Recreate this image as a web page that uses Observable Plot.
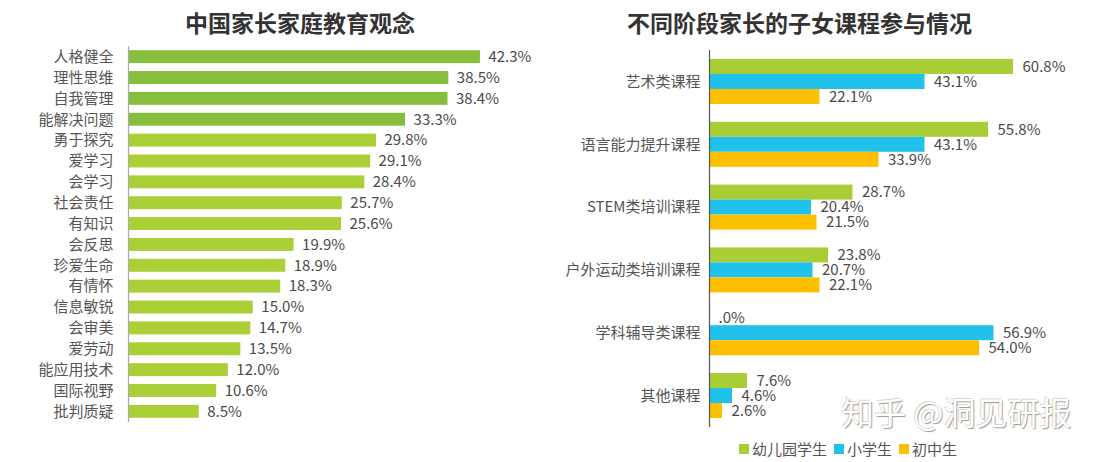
<!DOCTYPE html>
<html>
<head>
<meta charset="utf-8">
<script src="https://cdn.jsdelivr.net/npm/d3@7"></script>
<script src="https://cdn.jsdelivr.net/npm/@observablehq/plot@0.6"></script>
<style>
  html, body { margin: 0; padding: 0; background: #fff; }
  body { width: 1108px; height: 462px; position: relative; overflow: hidden;
         font-family: "Noto Sans CJK SC", "Noto Sans", sans-serif; }
  .title { position: absolute; top: 5px; font-size: 23px; font-weight: bold; color: #333; line-height: 34px; white-space: nowrap; }
  #t1 { left: 0; width: 600px; text-align: center; }
  #t2 { left: 627px; }
  #left { position: absolute; left: 0; top: 0; }
  #right { position: absolute; left: 560px; top: 0; }
  #legend { position: absolute; left: 739px; top: 432px; }
  #legend .lg-swatch { margin-right: 7px; color: #555; }
  #legend .lg-swatch > svg { margin-right: 3px; }
  #wm { position: absolute; left: 842px; top: 388px; font-size: 32px; color: #fff; white-space: nowrap;
        text-shadow: 1px 1px 1px #9a9a9a, -1px -1px 0 #d8d8d8; }
</style>
</head>
<body>
<div class="title" id="t1">中国家长家庭教育观念</div>
<div class="title" id="t2">不同阶段家长的子女课程参与情况</div>
<div id="left"></div>
<div id="right"></div>
<div id="legend"></div>
<div id="wm">知乎 @洞见研报</div>
<script>
// ---- Left chart data ----
const concepts = ["人格健全","理性思维","自我管理","能解决问题","勇于探究","爱学习","会学习","社会责任","有知识","会反思","珍爱生命","有情怀","信息敏锐","会审美","爱劳动","能应用技术","国际视野","批判质疑"];
const conceptValues = [42.3,38.5,38.4,33.3,29.8,29.1,28.4,25.7,25.6,19.9,18.9,18.3,15.0,14.7,13.5,12.0,10.6,8.5];
const conceptTier = ["top","top","top","top","rest","rest","rest","rest","rest","rest","rest","rest","rest","rest","rest","rest","rest","rest"];

// ---- Right chart data ----
const courses = ["艺术类课程","语言能力提升课程","STEM类培训课程","户外运动类培训课程","学科辅导类课程","其他课程"];
const seriesNames = ["幼儿园学生","小学生","初中生"];
const kindergarten = [60.8,55.8,28.7,23.8,0,7.6];
const primary = [43.1,43.1,20.4,20.7,56.9,4.6];
const juniorHigh = [22.1,33.9,21.5,22.1,54.0,2.6];
const seriesColors = ["#a8cd35","#20c2ec","#fdc000"];

const font = "'Noto Sans CJK SC', 'Noto Sans', sans-serif";
const fmt = v => v === 0 ? ".0%" : v.toFixed(1) + "%";

// ---- Left plot ----
const leftData = concepts.map((c, i) => ({name: c, value: conceptValues[i], tier: conceptTier[i]}));
const left = Plot.plot({
  width: 560, height: 432,
  marginLeft: 128, marginRight: 16, marginTop: 46, marginBottom: 10,
  style: {fontFamily: font, fontSize: "15px", color: "#555", background: "transparent"},
  x: {domain: [0, 50], axis: null},
  y: {domain: concepts, paddingInner: 0.38, paddingOuter: 0.2, round: false, axis: null},
  color: {domain: ["top","rest"], range: ["#86bf3e","#abcf37"]},
  marks: [
    Plot.barX(leftData, {x: "value", y: "name", fill: "tier"}),
    Plot.text(leftData, {x: "value", y: "name", text: d => fmt(d.value), dx: 8, textAnchor: "start", fill: "#4a4a4a", fontSize: 15}),
    Plot.axisY({tickSize: 0, tickPadding: 15, label: null, fontSize: 15, fill: "#555"}),
    Plot.ruleX([0], {stroke: "#aaa", strokeWidth: 1.2})
  ]
});
document.getElementById("left").append(left);

// ---- Right plot ----
const rightData = [];
courses.forEach((c, i) => {
  rightData.push({course: c, series: seriesNames[0], value: kindergarten[i]});
  rightData.push({course: c, series: seriesNames[1], value: primary[i]});
  rightData.push({course: c, series: seriesNames[2], value: juniorHigh[i]});
});
const right = Plot.plot({
  width: 548, height: 432,
  marginLeft: 149, marginRight: 49, marginTop: 50, marginBottom: 5,
  style: {fontFamily: font, fontSize: "15px", color: "#555", background: "transparent"},
  x: {domain: [0, 70], axis: null},
  y: {domain: seriesNames, padding: 0, round: false, axis: null},
  fy: {domain: courses, paddingInner: 0.283, paddingOuter: 0.143, round: false, axis: null, label: null},
  color: {domain: seriesNames, range: seriesColors},
  marks: [
    Plot.barX(rightData, {x: "value", y: "series", fy: "course", fill: "series"}),
    Plot.text(rightData, {x: "value", y: "series", fy: "course", text: d => fmt(d.value), dx: 9, textAnchor: "start", fill: "#4a4a4a", fontSize: 15}),
    Plot.axisFy({anchor: "left", tickSize: 0, tickPadding: 9, label: null, fontSize: 15, fill: "#555"}),
    Plot.ruleX([0], {stroke: "#555", strokeWidth: 1.2, insetTop: -9, insetBottom: -9})
  ]
});
document.getElementById("right").append(right);

// ---- Legend ----
const legend = Plot.legend({
  color: {type: "ordinal", domain: seriesNames, range: seriesColors},
  swatchSize: 10,
  className: "lg",
  style: {fontFamily: font, fontSize: "15px", color: "#555"}
});
document.getElementById("legend").append(legend);
</script>
</body>
</html>
